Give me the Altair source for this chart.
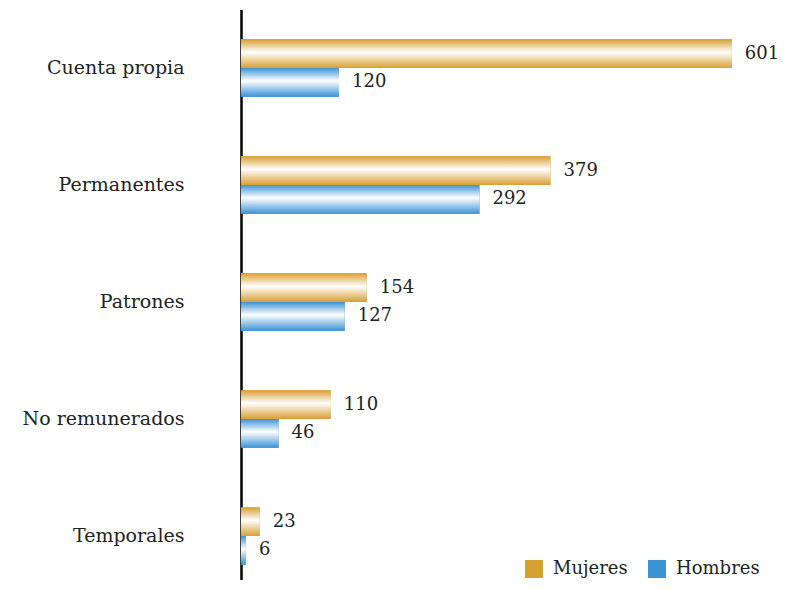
import altair as alt
import pandas as pd

categories = ["Cuenta propia", "Permanentes", "Patrones", "No remunerados", "Temporales"]
series = ["Mujeres", "Hombres"]
mujeres = [601, 379, 154, 110, 23]
hombres = [120, 292, 127, 46, 6]

rows = []
for c, m, h in zip(categories, mujeres, hombres):
    rows.append({"categoria": c, "serie": "Mujeres", "valor": m})
    rows.append({"categoria": c, "serie": "Hombres", "valor": h})
df = pd.DataFrame(rows)

GOLD = "#D8A033"
BLUE = "#3A94D4"
FONT = "DejaVu Serif"
TXT = "#222222"


def grad(c):
    return alt.LinearGradient(
        gradient="linear", x1=0, y1=0, x2=0, y2=1,
        stops=[alt.GradientStop(color=c, offset=0),
               alt.GradientStop(color="#ffffff", offset=0.45),
               alt.GradientStop(color=c, offset=1)])


y_enc = alt.Y(
    "categoria:N", sort=categories,
    scale=alt.Scale(range=[1.5, 586.5], paddingInner=0.51, paddingOuter=0.255),
    axis=alt.Axis(title=None, ticks=False, domain=True, domainColor="black",
                  domainWidth=2.5, labelAlign="right", labelPadding=57,
                  labelFont=FONT, labelFontSize=19, labelColor=TXT,
                  labelFontWeight="normal"))
x_enc = alt.X("valor:Q", scale=alt.Scale(domain=[0, 660], nice=False, zero=True), axis=None)
yoff = alt.YOffset("serie:N", sort=series, scale=alt.Scale(paddingInner=0, paddingOuter=0))

base = alt.Chart(df)

legend_bars = base.mark_bar().encode(
    y=y_enc, x=x_enc, yOffset=yoff,
    color=alt.Color("serie:N", sort=series,
                    scale=alt.Scale(domain=series, range=[GOLD, BLUE]),
                    legend=alt.Legend(title=None, orient="none", legendX=284, legendY=552,
                                      direction="horizontal", symbolType="square",
                                      symbolSize=324, symbolStrokeWidth=0,
                                      labelFont=FONT, labelFontSize=18, labelColor=TXT,
                                      columnPadding=20, labelOffset=10, padding=0)))

grad_layers = []
for s, c in zip(series, [GOLD, BLUE]):
    grad_layers.append(
        base.transform_filter(alt.datum.serie == s)
        .mark_bar(color=grad(c), strokeWidth=0)
        .encode(y=y_enc, x=x_enc, yOffset=yoff))

labels = base.mark_text(align="left", baseline="middle", dx=13, font=FONT,
                        fontSize=18, color=TXT).encode(
    y=y_enc, x=x_enc, yOffset=yoff, text="valor:Q")

chart = alt.layer(legend_bars, *grad_layers, labels).properties(
    width=539, height=572,
    padding={"left": 233, "top": 0, "right": 0, "bottom": 0},
    autosize="none",
).configure_view(stroke=None)

chart.save("out.html", embed_options={"renderer": "svg", "actions": False})
